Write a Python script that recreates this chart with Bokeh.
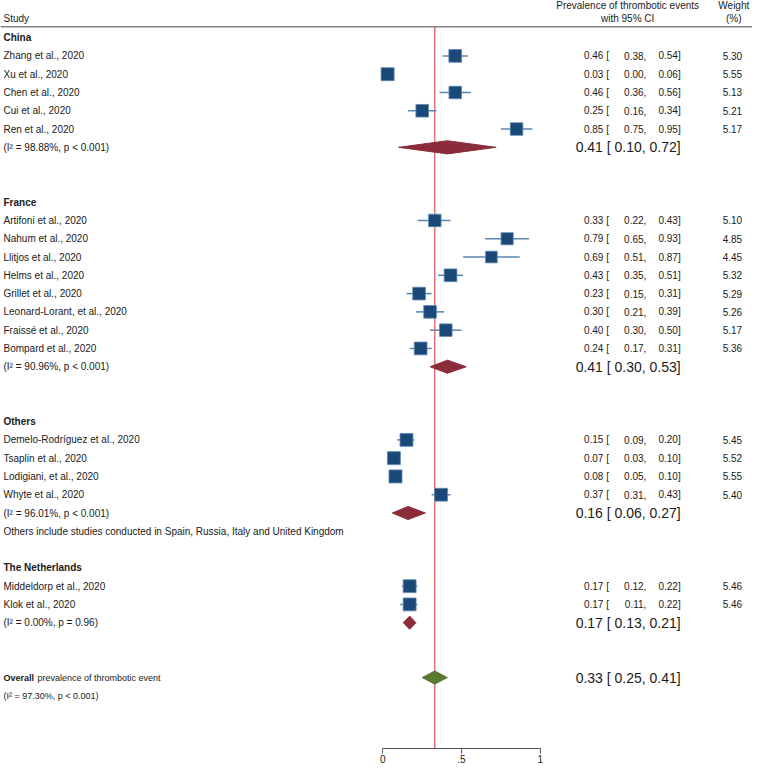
import numpy as np
from bokeh.plotting import figure
from bokeh.models import Range1d, FixedTicker, ColumnDataSource
from bokeh.core.properties import value
from bokeh.embed import file_html
from bokeh.resources import INLINE

# ---------------- data ----------------
group_names = ["China", "France", "Others", "The Netherlands"]

china_studies = ["Zhang et al., 2020", "Xu et al., 2020", "Chen et al., 2020",
                 "Cui et al., 2020", "Ren et al., 2020"]
china_est = [0.46, 0.03, 0.46, 0.25, 0.85]
china_lo = [0.38, 0.00, 0.36, 0.16, 0.75]
china_hi = [0.54, 0.06, 0.56, 0.34, 0.95]
china_w = [5.30, 5.55, 5.13, 5.21, 5.17]

france_studies = ["Artifoni et al., 2020", "Nahum et al., 2020", "Llitjos et al., 2020",
                  "Helms et al., 2020", "Grillet et al., 2020", "Leonard-Lorant, et al., 2020",
                  "Fraissé et al., 2020", "Bompard et al., 2020"]
france_est = [0.33, 0.79, 0.69, 0.43, 0.23, 0.30, 0.40, 0.24]
france_lo = [0.22, 0.65, 0.51, 0.35, 0.15, 0.21, 0.30, 0.17]
france_hi = [0.43, 0.93, 0.87, 0.51, 0.31, 0.39, 0.50, 0.31]
france_w = [5.10, 4.85, 4.45, 5.32, 5.29, 5.26, 5.17, 5.36]

others_studies = ["Demelo-Rodríguez et al., 2020", "Tsaplin et al., 2020",
                  "Lodigiani, et al., 2020", "Whyte et al., 2020"]
others_est = [0.15, 0.07, 0.08, 0.37]
others_lo = [0.09, 0.03, 0.05, 0.31]
others_hi = [0.20, 0.10, 0.10, 0.43]
others_w = [5.45, 5.52, 5.55, 5.40]

nl_studies = ["Middeldorp et al., 2020", "Klok et al., 2020"]
nl_est = [0.17, 0.17]
nl_lo = [0.12, 0.11]
nl_hi = [0.22, 0.22]
nl_w = [5.46, 5.46]

pooled_est = [0.41, 0.41, 0.16, 0.17]
pooled_lo = [0.10, 0.30, 0.06, 0.13]
pooled_hi = [0.72, 0.53, 0.27, 0.21]
pooled_het = ["(I² = 98.88%, p < 0.001)", "(I² = 90.96%, p < 0.001)",
              "(I² = 96.01%, p < 0.001)", "(I² = 0.00%, p = 0.96)"]
group_notes = [None, None,
               "Others include studies conducted in Spain, Russia, Italy and United Kingdom", None]

overall_est = 0.33
overall_lo = 0.25
overall_hi = 0.41
overall_het = "(I² = 97.30%, p < 0.001)"

x_ticks = [0, 0.5, 1]
x_tick_labels = ["0", ".5", "1"]

groups = [
    (china_studies, china_est, china_lo, china_hi, china_w),
    (france_studies, france_est, france_lo, france_hi, france_w),
    (others_studies, others_est, others_lo, others_hi, others_w),
    (nl_studies, nl_est, nl_lo, nl_hi, nl_w),
]

# ---------------- layout helpers ----------------
W, H = 752, 765
K = 747 / 760.0


def fig_px(r):
    return 3 + (r - 3) * K


ZERO = fig_px(389)
UNIT = fig_px(549) - ZERO
X0 = -ZERO / UNIT
X1 = (W - ZERO) / UNIT


def dx(r):
    return (fig_px(r) - ZERO) / UNIT


X_LEFT = dx(3)
X_EST = dx(619)
X_LO = dx(657)
X_HI = dx(692)
X_W = dx(754.5)
X_HDR = dx(638)
X_WHDR = dx(746)

FONT = "Liberation Sans"
TXT = "#1a1a1a"
SQ_FILL = "#1a4877"
CI_COL = "#5a86b3"
DIA_RED = "#8b2c3a"
DIA_GREEN = "#5a7a32"
REF_RED = "#e0505c"

# ---------------- build rows ----------------
rows_label, rows_label_y = [], []
hdr_label, hdr_y = [], []
st = dict(y=[], est=[], lo=[], hi=[], w=[], size=[], t_est=[], t_lo=[], t_hi=[], t_w=[])
dia_xs, dia_ys, pool_txt, pool_y, het_txt, het_y = [], [], [], [], [], []
note_txt, note_y = [], []

HALF = 0.36
row = 0
for gi, (names, est, lo, hi, w) in enumerate(groups):
    hdr_label.append(group_names[gi]); hdr_y.append(row)
    row += 1
    for n, e, l, h, ww in zip(names, est, lo, hi, w):
        rows_label.append(n); rows_label_y.append(row)
        st["y"].append(row); st["est"].append(e); st["lo"].append(l); st["hi"].append(h)
        st["w"].append(ww); st["size"].append(13 * np.sqrt(ww / 5.55))
        st["t_est"].append(f"{e:.2f} ["); st["t_lo"].append(f"{l:.2f},")
        st["t_hi"].append(f"{h:.2f}]"); st["t_w"].append(f"{ww:.2f}")
        row += 1
    pe, pl, ph = pooled_est[gi], pooled_lo[gi], pooled_hi[gi]
    dia_xs.append([pl, pe, ph, pe]); dia_ys.append([row, row - HALF, row, row + HALF])
    pool_txt.append(f"{pe:.2f} [ {pl:.2f}, {ph:.2f}]"); pool_y.append(row)
    het_txt.append(pooled_het[gi]); het_y.append(row)
    row += 1
    if group_notes[gi]:
        note_txt.append(group_notes[gi]); note_y.append(row)
        row += 2
    else:
        row += 2
overall_row = row
Y_TOP = -2.03
Y_BOT = 38.88
Y_HLINE = -0.59

p = figure(width=W, height=H, output_backend="svg", toolbar_location=None,
           x_range=Range1d(X0, X1), y_range=Range1d(Y_BOT, Y_TOP),
           y_axis_location=None, min_border=0, outline_line_color=None)
p.grid.visible = False
p.background_fill_color = "white"
p.border_fill_color = "white"

ax = p.xaxis[0]
ax.ticker = FixedTicker(ticks=x_ticks)
ax.bounds = (x_ticks[0], x_ticks[-1])
ax.major_label_overrides = {t: s for t, s in zip(x_ticks, x_tick_labels)}
ax.minor_tick_line_color = None
ax.major_tick_out = 5
ax.major_tick_in = 0
ax.major_label_standoff = 1
ax.axis_line_color = "#555555"
ax.major_tick_line_color = "#555555"
ax.major_label_text_font = FONT
ax.major_label_text_font_size = "10px"
ax.major_label_text_color = TXT

# header line
p.segment(x0=[X0], x1=[X1], y0=[Y_HLINE], y1=[Y_HLINE], line_color="#444444", line_width=1)
# reference line at overall estimate
p.segment(x0=[overall_est], x1=[overall_est], y0=[Y_HLINE], y1=[Y_BOT],
          line_color=REF_RED, line_width=1.2)

# header texts
hdr_kw = dict(text_font=value(FONT), text_font_size="10px", text_color=TXT,
              text_baseline="middle")
p.text(x=[X_LEFT], y=[-1.02], text=["Study"], text_align="left", **hdr_kw)
p.text(x=[X_HDR, X_HDR], y=[-1.76, -1.02],
       text=["Prevalence of thrombotic events", "with 95% CI"], text_align="center", **hdr_kw)
p.text(x=[X_WHDR, X_WHDR], y=[-1.76, -1.02], text=["Weight", "(%)"], text_align="center", **hdr_kw)

# group headings
p.text(x=[X_LEFT] * len(hdr_label), y=hdr_y, text=hdr_label, text_align="left",
       text_font_style="bold", **hdr_kw)
# study labels
p.text(x=[X_LEFT] * len(rows_label), y=rows_label_y, text=rows_label, text_align="left", **hdr_kw)
# heterogeneity
p.text(x=[X_LEFT] * len(het_txt), y=het_y, text=het_txt, text_align="left", **hdr_kw)
p.text(x=[X_LEFT] * len(note_txt), y=note_y, text=note_txt, text_align="left", **hdr_kw)

src = ColumnDataSource(st)
p.segment(x0="lo", x1="hi", y0="y", y1="y", source=src, line_color=CI_COL, line_width=1.5)
p.scatter(x="est", y="y", size="size", marker="square", source=src,
          fill_color=SQ_FILL, line_color=CI_COL, line_width=0.8)

num_kw = dict(text_font=value(FONT), text_font_size="10px", text_color=TXT,
              text_baseline="middle", text_align="right", source=src)
p.text(x=X_EST, y="y", text="t_est", **num_kw)
p.text(x=X_LO, y="y", text="t_lo", **num_kw)
p.text(x=X_HI, y="y", text="t_hi", **num_kw)
p.text(x=X_W, y="y", text="t_w", **num_kw)

# subgroup diamonds
p.patches(xs=dia_xs, ys=dia_ys, fill_color=DIA_RED, line_color=DIA_RED)
p.text(x=[X_HI] * len(pool_txt), y=pool_y, text=pool_txt, text_align="right",
       text_font=value(FONT), text_font_size="14px", text_color=TXT, text_baseline="middle")

# overall
p.patches(xs=[[overall_lo, overall_est, overall_hi, overall_est]],
          ys=[[overall_row, overall_row - HALF, overall_row, overall_row + HALF]],
          fill_color=DIA_GREEN, line_color=DIA_GREEN)
p.text(x=[X_HI], y=[overall_row], text=[f"{overall_est:.2f} [ {overall_lo:.2f}, {overall_hi:.2f}]"],
       text_align="right", text_font=value(FONT), text_font_size="14px", text_color=TXT,
       text_baseline="middle")
p.text(x=[X_LEFT], y=[overall_row], text=["Overall"], text_align="left",
       text_font=value(FONT), text_font_size="9px", text_font_style="bold",
       text_color=TXT, text_baseline="middle")
p.text(x=[X_LEFT], y=[overall_row], text=["prevalence of thrombotic event"], x_offset=34,
       text_align="left", text_font=value(FONT), text_font_size="9px",
       text_color=TXT, text_baseline="middle")
p.text(x=[X_LEFT], y=[overall_row + 1], text=[overall_het], text_align="left",
       text_font=value(FONT), text_font_size="9px", text_color=TXT, text_baseline="middle")

open("out.html", "w").write(file_html(p, INLINE))
